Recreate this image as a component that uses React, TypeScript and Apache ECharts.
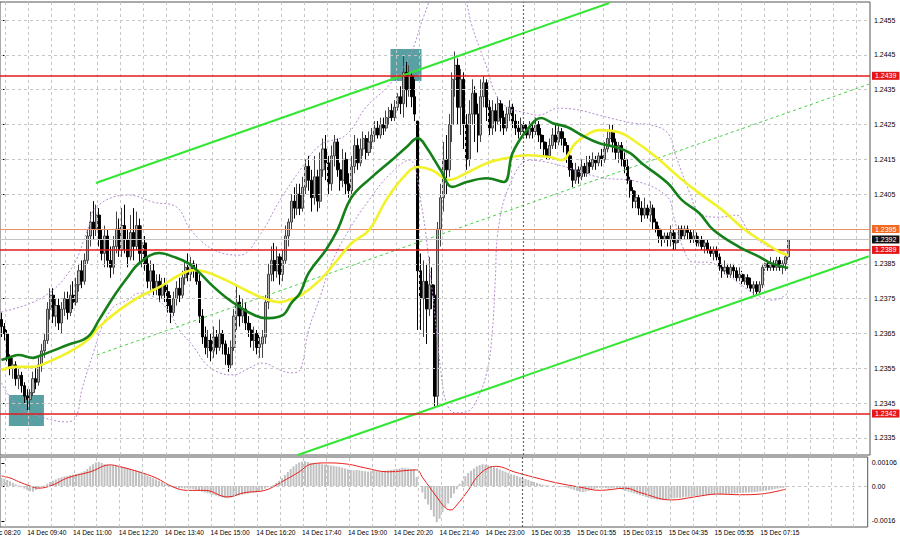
import React, { useEffect, useRef } from "react";
import * as echarts from "echarts";

const N_SLOTS = 303;
const LABEL_START = 9;
const LABEL_STEP = 16;

const timeLabels = [
  "14 Dec 09:40", "14 Dec 11:00", "14 Dec 12:20", "14 Dec 13:40", "14 Dec 15:00", "14 Dec 16:20",
  "14 Dec 17:40", "14 Dec 19:00", "14 Dec 20:20", "14 Dec 21:40", "14 Dec 23:00", "15 Dec 00:35",
  "15 Dec 01:55", "15 Dec 03:15", "15 Dec 04:35", "15 Dec 05:55", "15 Dec 07:15",
];
const firstLabel = "14 Dec 08:20";

const priceTicks = [1.2335, 1.2345, 1.2355, 1.2365, 1.2375, 1.2385, 1.2395, 1.2405, 1.2415, 1.2425, 1.2435, 1.2445, 1.2455];
const macdTicks = [0.00106, 0, -0.0016];
const macdTickLabels = ["0.00106", "0.00", "-0.0016"];

const redLevels = [1.2439, 1.2389, 1.2342];
const askPrice = 1.2395;
const bidPrice = 1.2392;

// [open, close, low, high]
const candles = [
  [1.2369,1.2367,1.2364,1.2371],[1.2367,1.2365,1.2363,1.2368],[1.2365,1.2358,1.2357,1.2366],[1.2358,1.2355,1.2353,1.2359],
  [1.2355,1.2356,1.2352,1.2358],[1.2356,1.2352,1.2350,1.2357],[1.2352,1.2353,1.2349,1.2355],[1.2353,1.2350,1.2348,1.2354],
  [1.2350,1.2347,1.2345,1.2351],[1.2347,1.2346,1.2343,1.2349],[1.2346,1.2348,1.2343,1.2349],[1.2348,1.2352,1.2347,1.2354],
  [1.2352,1.2351,1.2349,1.2355],[1.2351,1.2356,1.2350,1.2358],[1.2356,1.2360,1.2354,1.2362],[1.2360,1.2363,1.2358,1.2365],
  [1.2363,1.2372,1.2362,1.2374],[1.2372,1.2376,1.2369,1.2378],[1.2376,1.2370,1.2368,1.2378],[1.2370,1.2373,1.2367,1.2375],
  [1.2373,1.2368,1.2366,1.2375],[1.2368,1.2372,1.2365,1.2374],[1.2372,1.2375,1.2370,1.2377],[1.2375,1.2371,1.2369,1.2377],
  [1.2371,1.2376,1.2370,1.2379],[1.2376,1.2374,1.2372,1.2380],[1.2374,1.2379,1.2373,1.2381],[1.2379,1.2383,1.2377,1.2385],
  [1.2383,1.2380,1.2378,1.2386],[1.2380,1.2386,1.2379,1.2388],[1.2386,1.2393,1.2385,1.2395],[1.2393,1.2397,1.2390,1.2400],
  [1.2397,1.2395,1.2392,1.2403],[1.2395,1.2399,1.2393,1.2402],[1.2399,1.2392,1.2390,1.2401],[1.2392,1.2388,1.2386,1.2395],
  [1.2388,1.2393,1.2384,1.2396],[1.2393,1.2386,1.2384,1.2395],[1.2386,1.2384,1.2381,1.2390],[1.2384,1.2390,1.2382,1.2393],
  [1.2390,1.2395,1.2388,1.2400],[1.2395,1.2389,1.2387,1.2398],[1.2389,1.2396,1.2387,1.2401],[1.2396,1.2392,1.2388,1.2402],
  [1.2392,1.2387,1.2384,1.2395],[1.2387,1.2394,1.2386,1.2399],[1.2394,1.2390,1.2386,1.2401],[1.2390,1.2396,1.2389,1.2400],
  [1.2396,1.2388,1.2385,1.2398],[1.2388,1.2391,1.2384,1.2396],[1.2391,1.2385,1.2383,1.2393],[1.2385,1.2380,1.2378,1.2387],
  [1.2380,1.2383,1.2377,1.2386],[1.2383,1.2378,1.2376,1.2385],[1.2378,1.2380,1.2376,1.2382],[1.2380,1.2376,1.2374,1.2382],
  [1.2376,1.2379,1.2375,1.2381],[1.2379,1.2377,1.2374,1.2381],[1.2377,1.2373,1.2371,1.2379],[1.2373,1.2371,1.2368,1.2376],
  [1.2371,1.2375,1.2370,1.2377],[1.2375,1.2378,1.2373,1.2380],[1.2378,1.2376,1.2374,1.2381],[1.2376,1.2381,1.2375,1.2383],
  [1.2381,1.2384,1.2379,1.2386],[1.2384,1.2382,1.2380,1.2388],[1.2382,1.2385,1.2380,1.2387],[1.2385,1.2383,1.2381,1.2386],
  [1.2383,1.2380,1.2379,1.2385],[1.2380,1.2370,1.2368,1.2382],[1.2370,1.2364,1.2362,1.2372],[1.2364,1.2361,1.2359,1.2367],
  [1.2361,1.2363,1.2358,1.2366],[1.2363,1.2360,1.2357,1.2365],[1.2360,1.2364,1.2358,1.2367],[1.2364,1.2361,1.2359,1.2366],
  [1.2361,1.2365,1.2360,1.2369],[1.2365,1.2362,1.2359,1.2366],[1.2362,1.2359,1.2356,1.2363],[1.2359,1.2356,1.2354,1.2361],
  [1.2356,1.2361,1.2355,1.2363],[1.2361,1.2370,1.2360,1.2372],[1.2370,1.2374,1.2366,1.2379],[1.2374,1.2370,1.2367,1.2376],
  [1.2370,1.2372,1.2368,1.2375],[1.2372,1.2368,1.2366,1.2374],[1.2368,1.2366,1.2364,1.2370],[1.2366,1.2363,1.2361,1.2368],
  [1.2363,1.2365,1.2360,1.2367],[1.2365,1.2361,1.2359,1.2366],[1.2361,1.2362,1.2358,1.2364],[1.2362,1.2364,1.2358,1.2366],
  [1.2364,1.2374,1.2362,1.2376],[1.2374,1.2382,1.2372,1.2385],[1.2382,1.2386,1.2380,1.2390],[1.2386,1.2383,1.2380,1.2391],
  [1.2383,1.2387,1.2381,1.2390],[1.2387,1.2382,1.2379,1.2388],[1.2382,1.2386,1.2380,1.2389],[1.2386,1.2393,1.2385,1.2396],
  [1.2393,1.2397,1.2390,1.2398],[1.2397,1.2403,1.2395,1.2405],[1.2403,1.2401,1.2398,1.2407],[1.2401,1.2405,1.2399,1.2408],
  [1.2405,1.2401,1.2399,1.2408],[1.2401,1.2407,1.2400,1.2410],[1.2407,1.2413,1.2405,1.2415],[1.2413,1.2409,1.2406,1.2416],
  [1.2409,1.2404,1.2400,1.2412],[1.2404,1.2410,1.2402,1.2416],[1.2410,1.2403,1.2400,1.2412],[1.2403,1.2412,1.2401,1.2417],
  [1.2412,1.2418,1.2410,1.2421],[1.2418,1.2414,1.2409,1.2422],[1.2414,1.2408,1.2405,1.2416],[1.2408,1.2416,1.2406,1.2419],
  [1.2416,1.2420,1.2413,1.2422],[1.2420,1.2412,1.2410,1.2421],[1.2412,1.2409,1.2406,1.2414],[1.2409,1.2415,1.2407,1.2418],
  [1.2415,1.2408,1.2405,1.2417],[1.2408,1.2406,1.2404,1.2411],[1.2406,1.2413,1.2405,1.2416],[1.2413,1.2419,1.2411,1.2422],
  [1.2419,1.2414,1.2412,1.2421],[1.2414,1.2418,1.2413,1.2421],[1.2418,1.2421,1.2416,1.2423],[1.2421,1.2417,1.2415,1.2422],
  [1.2417,1.2420,1.2416,1.2423],[1.2420,1.2422,1.2418,1.2424],[1.2422,1.2424,1.2420,1.2426],[1.2424,1.2422,1.2421,1.2426],
  [1.2422,1.2425,1.2421,1.2427],[1.2425,1.2424,1.2422,1.2427],[1.2424,1.2427,1.2423,1.2429],[1.2427,1.2429,1.2425,1.2430],
  [1.2429,1.2427,1.2426,1.2431],[1.2427,1.2430,1.2426,1.2432],[1.2430,1.2433,1.2429,1.2434],[1.2433,1.2431,1.2428,1.2436],
  [1.2431,1.2440,1.2427,1.2445],[1.2440,1.2435,1.2430,1.2443],[1.2435,1.2439,1.2433,1.2442],[1.2439,1.2433,1.2430,1.2440],
  [1.2433,1.2428,1.2426,1.2438],[1.2426,1.2383,1.2366,1.2426],[1.2383,1.2375,1.2366,1.2388],[1.2375,1.2380,1.2364,1.2386],
  [1.2380,1.2372,1.2362,1.2385],[1.2372,1.2379,1.2370,1.2387],[1.2379,1.2376,1.2372,1.2384],[1.2376,1.2347,1.2344,1.2379],
  [1.2347,1.2395,1.2344,1.2397],[1.2395,1.2404,1.2390,1.2408],[1.2404,1.2415,1.2400,1.2420],[1.2415,1.2412,1.2405,1.2422],
  [1.2412,1.2425,1.2410,1.2428],[1.2425,1.2438,1.2420,1.2440],[1.2438,1.2442,1.2433,1.2446],[1.2442,1.2430,1.2425,1.2444],
  [1.2430,1.2438,1.2422,1.2441],[1.2438,1.2425,1.2418,1.2440],[1.2425,1.2415,1.2412,1.2428],[1.2415,1.2428,1.2413,1.2432],
  [1.2428,1.2434,1.2425,1.2438],[1.2434,1.2428,1.2420,1.2436],[1.2428,1.2422,1.2417,1.2431],[1.2422,1.2433,1.2420,1.2438],
  [1.2433,1.2437,1.2430,1.2439],[1.2437,1.2430,1.2426,1.2438],[1.2430,1.2424,1.2422,1.2432],[1.2424,1.2429,1.2422,1.2432],
  [1.2429,1.2426,1.2423,1.2431],[1.2426,1.2431,1.2425,1.2433],[1.2431,1.2427,1.2423,1.2432],[1.2427,1.2424,1.2422,1.2429],
  [1.2424,1.2428,1.2423,1.2430],[1.2428,1.2430,1.2426,1.2432],[1.2430,1.2426,1.2424,1.2431],[1.2426,1.2424,1.2422,1.2428],
  [1.2424,1.2423,1.2421,1.2426],[1.2423,1.2425,1.2422,1.2427],[1.2425,1.2424,1.2422,1.2426],[1.2424,1.2422,1.2421,1.2425],
  [1.2422,1.2424,1.2421,1.2426],[1.2424,1.2423,1.2421,1.2425],[1.2423,1.2425,1.2422,1.2427],[1.2425,1.2422,1.2420,1.2426],
  [1.2422,1.2420,1.2418,1.2424],[1.2420,1.2418,1.2416,1.2422],[1.2418,1.2416,1.2415,1.2420],[1.2416,1.2419,1.2415,1.2421],
  [1.2419,1.2422,1.2418,1.2424],[1.2422,1.2420,1.2418,1.2425],[1.2420,1.2423,1.2419,1.2425],[1.2423,1.2421,1.2419,1.2424],
  [1.2421,1.2419,1.2417,1.2423],[1.2419,1.2416,1.2414,1.2420],[1.2416,1.2412,1.2410,1.2417],[1.2412,1.2409,1.2407,1.2414],
  [1.2409,1.2412,1.2408,1.2414],[1.2412,1.2410,1.2408,1.2413],[1.2410,1.2413,1.2409,1.2415],[1.2413,1.2411,1.2410,1.2414],
  [1.2411,1.2414,1.2410,1.2416],[1.2414,1.2413,1.2411,1.2416],[1.2413,1.2415,1.2412,1.2417],[1.2415,1.2414,1.2412,1.2416],
  [1.2414,1.2416,1.2413,1.2417],[1.2416,1.2415,1.2413,1.2418],[1.2415,1.2418,1.2414,1.2420],[1.2418,1.2421,1.2417,1.2423],
  [1.2421,1.2423,1.2419,1.2425],[1.2423,1.2420,1.2417,1.2425],[1.2420,1.2417,1.2415,1.2421],[1.2417,1.2419,1.2414,1.2420],
  [1.2419,1.2415,1.2413,1.2420],[1.2415,1.2413,1.2411,1.2417],[1.2413,1.2409,1.2408,1.2415],[1.2409,1.2406,1.2404,1.2410],
  [1.2406,1.2403,1.2401,1.2407],[1.2403,1.2404,1.2401,1.2406],[1.2404,1.2401,1.2399,1.2405],[1.2401,1.2399,1.2397,1.2403],
  [1.2399,1.2401,1.2398,1.2404],[1.2401,1.2399,1.2398,1.2402],[1.2399,1.2401,1.2397,1.2403],[1.2401,1.2397,1.2395,1.2402],
  [1.2397,1.2395,1.2394,1.2398],[1.2395,1.2393,1.2391,1.2396],[1.2393,1.2392,1.2390,1.2395],[1.2392,1.2393,1.2391,1.2394],
  [1.2393,1.2392,1.2390,1.2394],[1.2392,1.2394,1.2390,1.2396],[1.2394,1.2391,1.2389,1.2395],[1.2391,1.2392,1.2389,1.2394],
  [1.2392,1.2395,1.2391,1.2396],[1.2395,1.2393,1.2392,1.2396],[1.2393,1.2395,1.2392,1.2396],[1.2395,1.2394,1.2392,1.2396],
  [1.2394,1.2392,1.2391,1.2395],[1.2392,1.2393,1.2391,1.2395],[1.2393,1.2391,1.2390,1.2394],[1.2391,1.2392,1.2390,1.2393],
  [1.2392,1.2390,1.2389,1.2393],[1.2390,1.2391,1.2388,1.2392],[1.2391,1.2389,1.2388,1.2392],[1.2389,1.2388,1.2387,1.2390],
  [1.2388,1.2389,1.2386,1.2390],[1.2389,1.2387,1.2386,1.2390],[1.2387,1.2384,1.2383,1.2388],[1.2384,1.2383,1.2381,1.2385],
  [1.2383,1.2384,1.2382,1.2386],[1.2384,1.2382,1.2381,1.2385],[1.2382,1.2384,1.2381,1.2385],[1.2384,1.2383,1.2381,1.2385],
  [1.2383,1.2381,1.2380,1.2384],[1.2381,1.2382,1.2380,1.2384],[1.2382,1.2380,1.2379,1.2383],[1.2380,1.2381,1.2379,1.2382],
  [1.2381,1.2379,1.2378,1.2382],[1.2379,1.2378,1.2377,1.2381],[1.2378,1.2379,1.2376,1.2380],[1.2379,1.2377,1.2376,1.2380],
  [1.2377,1.2379,1.2376,1.2380],[1.2379,1.2384,1.2378,1.2385],[1.2384,1.2385,1.2383,1.2386],[1.2385,1.2384,1.2383,1.2386],
  [1.2384,1.2385,1.2383,1.2387],[1.2385,1.2384,1.2383,1.2386],[1.2384,1.2386,1.2383,1.2387],[1.2386,1.2384,1.2383,1.2387],
  [1.2384,1.2385,1.2382,1.2386],[1.2385,1.2387,1.2383,1.2388],[1.2387,1.2392,1.2386,1.2393],
];

// [bar, price]
const greenMA = [
  [0,1.23574],[3,1.23582],[6,1.23588],[11,1.2358],[14,1.23588],[23,1.23617],[30,1.2364],[34,1.23689],[39,1.23755],
  [44,1.23812],[48,1.23852],[55,1.23881],[60,1.2387],[65,1.23852],[69,1.23824],[74,1.23783],[78,1.23755],[83,1.23726],
  [88,1.23703],[92,1.23694],[98,1.23703],[101,1.23738],[104,1.23766],[107,1.23824],[113,1.2389],[117,1.23947],
  [122,1.24042],[129,1.24099],[136,1.24148],[141,1.24185],[145,1.24211],[148,1.24185],[153,1.24119],[157,1.24071],
  [162,1.24085],[169,1.24096],[175,1.24085],[178,1.24168],[183,1.24234],[188,1.24269],[192,1.24254],[197,1.24243],
  [202,1.2422],[208,1.24197],[214,1.24185],[219,1.24168],[223,1.24139],[232,1.24082],[237,1.24033],[243,1.23996],
  [248,1.23947],[257,1.23898],[264,1.2387],[268,1.23852],[274,1.23838],
];
const yellowMA = [
  [0,1.23545],[5,1.23554],[11,1.23554],[14,1.2356],[23,1.23594],[30,1.23631],[34,1.23669],[41,1.23717],[48,1.23755],
  [55,1.23783],[62,1.23818],[67,1.23832],[71,1.23827],[78,1.23804],[85,1.23775],[91,1.23752],[97,1.2374],[100,1.23746],
  [104,1.23758],[111,1.23804],[117,1.23861],[122,1.2391],[128,1.23947],[134,1.24033],[140,1.24099],[145,1.24128],
  [150,1.24119],[156,1.24091],[162,1.24111],[169,1.24139],[176,1.24154],[183,1.24162],[191,1.24157],[195,1.24148],
  [200,1.24197],[205,1.24226],[208,1.24234],[215,1.24228],[221,1.242],[228,1.24157],[236,1.24099],[243,1.24053],
  [251,1.24005],[259,1.23947],[266,1.2391],[271,1.23884],[274,1.23875],
];
const bandUpper = [
  [0,1.23712],[14,1.23752],[24,1.23832],[30,1.23947],[33,1.24013],[44,1.24048],[53,1.24027],[61,1.24013],[66,1.23947],
  [74,1.2389],[83,1.23875],[90,1.23933],[97,1.24033],[104,1.24119],[111,1.24191],[120,1.2422],[127,1.243],[135,1.24363],
  [142,1.24444],[147,1.24559],[151,1.24640],[155,1.24680],[160,1.24650],[164,1.2453],[169,1.24415],[172,1.2434],
  [176,1.243],[183,1.24283],[187,1.24277],[194,1.24297],[201,1.24292],[208,1.24277],[220,1.24254],[226,1.24249],
  [232,1.24226],[235,1.24157],[240,1.24048],[243,1.23996],[250,1.23984],[256,1.2399],[260,1.23947],[266,1.23904],
  [274,1.23884],
];
const bandLower = [
  [0,1.23508],[6,1.23439],[14,1.2341],[23,1.23396],[26,1.2341],[28,1.23488],[32,1.23594],[35,1.23669],[39,1.23726],
  [44,1.23746],[48,1.23766],[53,1.23755],[58,1.23717],[62,1.2366],[67,1.23611],[71,1.23565],[76,1.23537],[81,1.23531],
  [85,1.23545],[91,1.23565],[97,1.23545],[101,1.23537],[104,1.23545],[107,1.2366],[111,1.23755],[115,1.23852],
  [121,1.23947],[128,1.24033],[135,1.24105],[142,1.24148],[146,1.24033],[150,1.23775],[153,1.23545],[155,1.2345],
  [158,1.23422],[162,1.23425],[165,1.2345],[169,1.23537],[171,1.2366],[172,1.23804],[173,1.23947],[177,1.24076],
  [184,1.24148],[194,1.24134],[208,1.24099],[222,1.24085],[232,1.24042],[234,1.2399],[237,1.23904],[241,1.23855],
  [246,1.23855],[253,1.23818],[263,1.2376],[269,1.23746],[274,1.23766],
];

const macdHist = [
  0.00037,0.00033,0.00028,0.00022,0.00015,0.00008,0.00003,-0.00005,-0.00012,-0.00018,-0.00024,-0.00026,
  -0.00018,-0.0001,-0.00004,0.00002,0.0001,0.00018,0.00024,0.0003,
  0.00036,0.0004,0.00044,0.00046,0.0005,0.00052,0.00055,0.00058,0.00062,0.00068,0.00078,
  0.0009,0.001,0.00108,0.0011,0.00106,
  0.001,0.00098,0.00094,0.00096,0.00094,0.0009,0.00088,0.00086,0.00082,0.00078,
  0.00074,0.0007,0.00066,0.0006,0.00054,0.00048,0.00042,0.00036,0.0003,0.00024,0.00018,0.00012,
  0.00006,0,-0.00005,
  -0.00008,-0.0001,-0.0001,-0.00012,-0.0001,-0.00012,-0.00014,-0.00018,-0.00022,-0.00026,-0.0003,-0.00033,
  -0.00036,-0.0004,-0.00044,-0.00048,-0.00052,-0.00055,-0.00056,-0.00054,-0.0005,
  -0.00046,-0.00042,-0.0004,-0.00038,-0.00036,-0.00032,-0.0003,-0.00028,-0.00024,
  -0.00018,-0.00012,-0.00006,0,0.00006,
  0.00014,0.00024,0.00036,0.0005,0.00064,
  0.00078,0.0009,0.001,0.00108,0.00112,0.00114,
  0.0011,0.00106,0.00104,0.00102,0.00104,0.001,0.00098,0.00096,0.00094,0.00092,0.0009,0.00088,0.00084,
  0.0008,0.00076,0.00074,0.00072,0.00074,0.00072,0.0007,0.00068,0.00066,0.00068,0.0007,0.00068,0.00066,0.00068,0.0007,0.00072,0.00074,0.00076,0.00078,
  0.0008,0.00084,0.00082,0.0008,0.00078,0.00076,
  0.0004,
  0,-0.0003,-0.0006,-0.00085,-0.0011,
  -0.0014,-0.00166,-0.0015,
  -0.0012,-0.001,-0.0008,
  -0.00055,-0.00035,-0.00015,
  0.0001,0.00025,0.00045,0.0006,
  0.0007,0.0008,0.0009,0.00096,
  0.001,0.00098,0.00095,
  0.0009,0.00086,0.00082,0.00076,0.0007,0.00066,0.0006,
  0.00054,0.0005,0.00046,0.0004,0.00036,0.00032,0.00028,
  0.00022,0.00018,0.00014,0.0001,0.00006,0.00004,0.00002,
  0,0.00002,-0.00002,0,-0.00004,-0.00006,
  -0.0001,-0.00014,-0.00018,-0.00022,-0.00026,-0.00028,-0.00026,-0.00022,-0.00018,-0.00014,-0.0001,
  -0.00008,-0.00008,-0.0001,-0.00012,-0.0001,-0.00008,-0.0001,-0.00014,
  -0.00018,-0.00022,-0.00026,-0.0003,-0.00034,-0.00038,
  -0.00042,-0.00046,-0.0005,-0.00054,-0.00058,-0.0006,-0.00062,-0.00064,-0.00064,-0.00062,-0.0006,
  -0.00058,-0.00056,-0.00055,-0.00054,-0.00052,-0.0005,-0.00049,-0.00048,-0.00046,-0.00045,-0.00044,-0.00043,-0.00042,-0.00041,-0.0004,-0.0004,
  -0.00039,-0.00038,-0.00037,-0.00036,-0.00036,-0.00035,-0.00034,-0.00033,-0.00032,-0.00031,-0.0003,-0.0003,-0.00029,-0.00028,
  -0.00027,-0.00025,-0.00023,-0.00021,-0.00019,-0.00017,-0.00014,-0.00012,-0.0001,-0.00008,-0.00005,
];
const macdSignal = [
  [0,0.00046],[3,0.00037],[6,0.0002],[10,0],[13,-0.0001],[18,0.00005],[23,0.00037],[31,0.00065],[38,0.00097],
  [41,0.0009],[48,0.00065],[54,0.00037],[60,-0.00005],[65,-0.0002],[71,-0.0002],[79,-0.0005],[85,-0.0003],
  [92,-0.0002],[98,0.0002],[104,0.00065],[108,0.001],[114,0.00106],[121,0.001],[127,0.00083],[135,0.00065],
  [145,0.00074],[147,0.0004],[152,-0.0005],[155,-0.001],[157,-0.0011],[159,-0.00087],[163,-0.0002],[166,0.0004],
  [170,0.00083],[173,0.0009],[179,0.00065],[186,0.0004],[194,0.00014],[202,-0.00005],[209,-0.0002],[218,-0.0001],
  [223,-0.0003],[234,-0.00064],[242,-0.0005],[250,-0.00037],[258,-0.0004],[265,-0.00037],[274,-0.00014],
];

// annotation objects (bar, price)
const trendUpper = [[32.9, 1.24082], [211.7, 1.24599]];
const trendLower = [[103.2, 1.23301], [302.1, 1.23872]];
const trendDashed = [[33.2, 1.23588], [302.1, 1.24366]];
const boxes = [
  [[135.5, 1.24467], [146.3, 1.24375]],
  [[2.6, 1.23473], [14.8, 1.23384]],
];
const separatorBar = 181.8;

const FONT = "Liberation Sans, Arial, sans-serif";

export default function App() {
  const ref = useRef<HTMLDivElement>(null);
  useEffect(() => {
    document.body.style.margin = "0";
    if (!ref.current) return;
    const chart = echarts.init(ref.current, undefined, { renderer: "svg" });
    const cats = Array.from({ length: N_SLOTS }, (_, i) => String(i));
    const gridXs: number[] = [];
    for (let k = 0; k < 38; k++) gridXs.push(1.24 + 8.01 * k);

    const dashGray = { type: [3, 3] as any, color: "#c6c6c6", width: 1 };
    const noLabel = { show: false };

    const tag = (v: number, bg: string) => ({
      yAxis: v,
      label: {
        show: true,
        position: "end",
        distance: 2,
        formatter: v.toFixed(4),
        color: "#fff",
        backgroundColor: bg,
        padding: [1, 3, 0, 3],
        fontSize: 7,
        fontFamily: FONT,
        lineHeight: 7,
      },
    });

    const option: any = {
      animation: false,
      backgroundColor: "#ffffff",
      grid: [
        { left: 0, top: 2, width: 870, height: 453, show: true, borderColor: "#555", borderWidth: 1 },
        { left: 0, top: 457, width: 870, height: 70, show: true, borderColor: "#555", borderWidth: 1 },
      ],
      xAxis: [
        { type: "category", gridIndex: 0, data: cats, boundaryGap: true, show: false },
        { type: "value", gridIndex: 0, min: -0.5, max: N_SLOTS - 0.5, show: false },
        {
          type: "category", gridIndex: 1, data: cats, boundaryGap: true,
          axisLine: { show: false }, axisTick: { show: false }, splitLine: { show: false },
          axisLabel: {
            interval: (idx: number) => idx >= LABEL_START && (idx - LABEL_START) % LABEL_STEP === 0 && (idx - LABEL_START) / LABEL_STEP < timeLabels.length,
            formatter: (val: string) => {
              const i = Number(val);
              const k = (i - LABEL_START) / LABEL_STEP;
              return Number.isInteger(k) && k >= 0 && k < timeLabels.length ? timeLabels[k] : "";
            },
            align: "left", fontSize: 6.6, fontFamily: FONT, color: "#000", margin: 2,
          },
        },
        { type: "value", gridIndex: 1, min: -0.5, max: N_SLOTS - 0.5, show: false },
      ],
      yAxis: [
        {
          type: "value", gridIndex: 0, position: "right", min: 1.23301, max: 1.24602, scale: true,
          splitLine: { show: false }, axisLine: { show: false },
          axisTick: { show: true, customValues: priceTicks, length: 3, lineStyle: { color: "#000" } },
          axisLabel: { customValues: priceTicks, formatter: (v: number) => v.toFixed(4), fontSize: 7, fontFamily: FONT, color: "#000", margin: 4 },
        },
        {
          type: "value", gridIndex: 1, position: "right", min: -0.00188, max: 0.00133,
          splitLine: { show: false }, axisLine: { show: false },
          axisTick: { show: true, customValues: macdTicks, length: 3, lineStyle: { color: "#000" } },
          axisLabel: {
            customValues: macdTicks,
            formatter: (v: number) => {
              const k = macdTicks.findIndex((t) => Math.abs(t - v) < 1e-7);
              return k >= 0 ? macdTickLabels[k] : "";
            },
            fontSize: 7, fontFamily: FONT, color: "#000", margin: 4,
          },
        },
      ],
      series: [
        // main grid lines + boxes
        {
          type: "line", xAxisIndex: 1, yAxisIndex: 0, data: [], z: 1, silent: true, clip: false,
          markLine: {
            silent: true, precision: 6, symbol: ["none", "none"], label: noLabel, lineStyle: dashGray,
            data: [...priceTicks.map((v) => ({ yAxis: v })), ...gridXs.map((x) => ({ xAxis: x }))],
          },
          markArea: {
            silent: true, itemStyle: { color: "#58a0a2" },
            data: boxes.map((b) => [{ coord: b[0] }, { coord: b[1] }]),
          },
        },
        {
          type: "candlestick", xAxisIndex: 0, yAxisIndex: 0, data: candles, barWidth: 2.6, z: 3,
          itemStyle: { color: "#b4b4b4", color0: "#000000", borderColor: "#444444", borderColor0: "#000000", borderWidth: 1 },
        },
        {
          type: "line", xAxisIndex: 1, yAxisIndex: 0, data: bandUpper, smooth: 0.4, symbol: "none", z: 4,
          lineStyle: { color: "#b48ad0", width: 1, type: [2, 2] },
        },
        {
          type: "line", xAxisIndex: 1, yAxisIndex: 0, data: bandLower, smooth: 0.4, symbol: "none", z: 4,
          lineStyle: { color: "#b48ad0", width: 1, type: [2, 2] },
        },
        {
          type: "line", xAxisIndex: 1, yAxisIndex: 0, data: yellowMA, smooth: 0.4, symbol: "none", z: 5,
          lineStyle: { color: "#f2f22a", width: 2.6 },
        },
        {
          type: "line", xAxisIndex: 1, yAxisIndex: 0, data: greenMA, smooth: 0.4, symbol: "none", z: 5,
          lineStyle: { color: "#15801a", width: 2.6 },
        },
        // annotations: trend lines, levels, tags, separator
        {
          type: "line", xAxisIndex: 1, yAxisIndex: 0, data: [], z: 6, silent: true, clip: false,
          markLine: {
            silent: true, precision: 6, symbol: ["none", "none"], label: noLabel,
            data: [
              [{ coord: trendUpper[0], lineStyle: { color: "#33e633", width: 2, type: "solid" } }, { coord: trendUpper[1] }],
              [{ coord: trendLower[0], lineStyle: { color: "#33e633", width: 2, type: "solid" } }, { coord: trendLower[1] }],
              [{ coord: trendDashed[0], lineStyle: { color: "#44d044", width: 1, type: [3, 3] } }, { coord: trendDashed[1] }],
              { xAxis: separatorBar, lineStyle: { color: "#666", width: 1.2, type: [2, 2] } },
              { ...tag(askPrice, "#f26a1f"), lineStyle: { color: "#f0906a", width: 1, type: "solid" } },
              { ...tag(bidPrice, "#111111"), lineStyle: { color: "#c4c4c4", width: 1, type: "solid" } },
              ...redLevels.map((v) => ({ ...tag(v, "#e51616"), lineStyle: { color: "#e41b1b", width: 1.6, type: "solid" } })),
            ],
          },
        },
        // MACD grid lines
        {
          type: "line", xAxisIndex: 3, yAxisIndex: 1, data: [], z: 1, silent: true, clip: false,
          markLine: {
            silent: true, precision: 8, symbol: ["none", "none"], label: noLabel, lineStyle: dashGray,
            data: [
              { yAxis: 0 },
              ...gridXs.map((x) => ({ xAxis: x })),
              { xAxis: separatorBar, lineStyle: { color: "#666", width: 1.2, type: [2, 2] } },
            ],
          },
        },
        {
          type: "bar", xAxisIndex: 2, yAxisIndex: 1, data: macdHist, barWidth: 2, z: 3,
          itemStyle: { color: "#c0c0c0" },
        },
        {
          type: "line", xAxisIndex: 3, yAxisIndex: 1, data: macdSignal, smooth: 0.4, symbol: "none", z: 4,
          lineStyle: { color: "#e8201c", width: 1 },
        },
      ],
    };
    chart.setOption(option);
    const px = chart.convertToPixel({ xAxisIndex: 3 }, LABEL_START - LABEL_STEP) as number;
    chart.setOption({
      graphic: [
        {
          type: "text", x: px, y: 529, silent: true,
          style: { text: firstLabel, fontSize: 6.6, fontFamily: FONT, fill: "#000", align: "left", verticalAlign: "top" },
        },
      ],
    });
    return () => chart.dispose();
  }, []);
  return <div ref={ref} style={{ width: 900, height: 541 }} />;
}
